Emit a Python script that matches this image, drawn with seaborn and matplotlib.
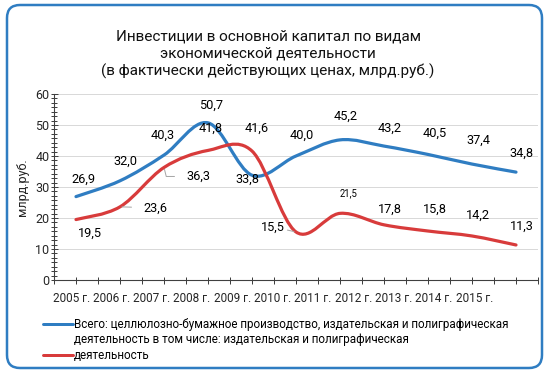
import numpy as np
import pandas as pd
import matplotlib
matplotlib.use("Agg")
import matplotlib.pyplot as plt
import seaborn as sns
from matplotlib.path import Path
from matplotlib.patches import PathPatch, FancyBboxPatch
from matplotlib.lines import Line2D
from matplotlib.ticker import MultipleLocator, FixedLocator
from matplotlib.transforms import IdentityTransform

# ---------------- data ----------------
years = ["2005 г.", "2006 г.", "2007 г.", "2008 г.", "2009 г.", "2010 г.",
         "2011 г.", "2012 г.", "2013 г.", "2014 г.", "2015 г."]
total = [26.9, 32.0, 40.3, 50.7, 33.8, 40.0, 45.2, 43.2, 40.5, 37.4, 34.8]
publishing = [19.5, 23.6, 36.3, 41.8, 41.6, 15.5, 21.5, 17.8, 15.8, 14.2, 11.3]
series_names = ["Всего: целлюлозно-бумажное производство, издательская и полиграфическая деятельность",
                "в том числе: издательская и полиграфическая деятельность"]
legend_lines = ["Всего: целлюлозно-бумажное производство, издательская и полиграфическая",
                "деятельность в том числе: издательская и полиграфическая",
                "деятельность"]
title_text = ("Инвестиции в основной капитал по видам\n"
              "экономической деятельности\n"
              "(в фактически действующих ценах, млрд.руб.)")
y_label = "млрд.руб."

# ---------------- style ----------------
BLUE = "#2F7DC2"
RED = "#D83B3B"
sns.set_theme(style="white")
plt.rcParams["font.family"] = ["Roboto", "DejaVu Sans"]
plt.rcParams["text.color"] = "#000000"

W, H, DPI = 550, 383, 72
fig = plt.figure(figsize=(W / DPI, H / DPI), dpi=DPI)
fig.patch.set_facecolor("white")
ax = fig.add_axes([54 / W, (H - 280) / H, 484 / W, 186 / H])

pos = np.arange(len(years))
df = pd.DataFrame({
    "pos": np.concatenate([pos, pos]),
    "value": total + publishing,
    "series": [series_names[0]] * len(pos) + [series_names[1]] * len(pos),
})
sns.lineplot(data=df, x="pos", y="value", hue="series",
             palette=[BLUE, RED], ax=ax, legend=False, linewidth=0)


def smooth_path(xs, ys):
    P = np.column_stack([xs, ys]).astype(float)
    n = len(P)
    verts = [P[0]]
    codes = [Path.MOVETO]
    for i in range(n - 1):
        p0 = P[i - 1] if i > 0 else P[i]
        p3 = P[i + 2] if i + 2 < n else P[i + 1]
        c1 = P[i] + (P[i + 1] - p0) / 6.0
        c2 = P[i + 1] - (p3 - P[i]) / 6.0
        verts += [c1, c2, P[i + 1]]
        codes += [Path.CURVE4] * 3
    return Path(verts, codes)


for vals, col in [(total, BLUE), (publishing, RED)]:
    ax.add_patch(PathPatch(smooth_path(pos, vals), facecolor="none",
                           edgecolor=col, lw=3.2, capstyle="round",
                           joinstyle="round", zorder=3))

# ---------------- axes ----------------
ax.set_xlim(-0.5, len(years) - 0.5)
ax.set_ylim(0, 60)
ax.yaxis.set_major_locator(MultipleLocator(10))
ax.yaxis.set_minor_locator(MultipleLocator(10 / 7))
ax.grid(axis="y", which="major", color="#D9D9D9", lw=1)
ax.grid(axis="x", visible=False)
for s in ["top", "right"]:
    ax.spines[s].set_visible(False)
for s in ["left", "bottom"]:
    ax.spines[s].set_color("#404040")
    ax.spines[s].set_linewidth(1.1)
ax.tick_params(axis="y", which="major", direction="inout", length=7, width=1,
               color="#404040", labelsize=12.5, pad=1, left=True)
ax.tick_params(axis="y", which="minor", direction="inout", length=6, width=1,
               color="#404040", left=True)
# x: tick marks every half category, labels placed as in original
ax.xaxis.set_minor_locator(FixedLocator(np.arange(-0.5, len(years), 0.5)))
ax.tick_params(axis="x", which="minor", direction="inout", length=7, width=1,
               color="#404040", bottom=True)
label_pos = -0.11 + np.arange(len(years)) * 0.916
ax.set_xticks(label_pos)
ax.set_xticklabels(years)
ax.tick_params(axis="x", which="major", length=0, labelsize=11.8, pad=12)
ax.set_xlabel("")
ax.set_ylabel(y_label, fontsize=12.5, labelpad=6)

# ---------------- data labels ----------------
blue_off = [(7, 17), (5, 20), (-1, 20), (3, 18), (-5, -4), (6, 21),
            (6, 24), (6, 18), (7, 21), (6, 24), (6, 19)]
red_off = [(14, -14), (35, -1), (34, -9), (3, 22), (5, 23), (-23, 5),
           (9, 20), (6, 16), (7, 22), (6, 21), (6, 19)]
leader = {1: "arc3", 2: "angle,angleA=0,angleB=-76,rad=0", 5: "arc3"}


def fmt(v):
    return f"{v:.1f}".replace(".", ",")


for i, v in enumerate(total):
    ax.annotate(fmt(v), (pos[i], v), xytext=blue_off[i], textcoords="offset points",
                ha="center", va="center", fontsize=12.8, zorder=5)
for i, v in enumerate(publishing):
    kw = {}
    if i in leader:
        kw["arrowprops"] = dict(arrowstyle="-", color="#A6A6A6", lw=1,
                                shrinkA=9, shrinkB=2,
                                connectionstyle=leader[i])
    ax.annotate(fmt(v), (pos[i], v), xytext=red_off[i], textcoords="offset points",
                ha="center", va="center", fontsize=9.5 if i == 6 else 12.8,
                zorder=5, **kw)

# ---------------- title ----------------
fig.text(268 / W, 1 - 54 / H, title_text, ha="center", va="center",
         fontsize=15.2, linespacing=1.28, color="#111111")

# ---------------- legend ----------------
handles = [Line2D([], [], color=BLUE, lw=3),
           Line2D([], [], color="none", lw=0),
           Line2D([], [], color=RED, lw=3)]
fig.legend(handles, legend_lines, loc="upper left",
           bbox_to_anchor=(43 / W, 1 - 318 / H), frameon=False,
           fontsize=11.6, handlelength=2.6, handletextpad=0.08,
           labelspacing=0.2, borderpad=0, borderaxespad=0)

# ---------------- outer rounded frame ----------------
frame = FancyBboxPatch((7, H - 368), 535, 363,
                       boxstyle="round,pad=0,rounding_size=13",
                       transform=IdentityTransform(), facecolor="none",
                       edgecolor=BLUE, lw=2.5, zorder=10)
fig.add_artist(frame)

fig.savefig("out.png", dpi=DPI)
